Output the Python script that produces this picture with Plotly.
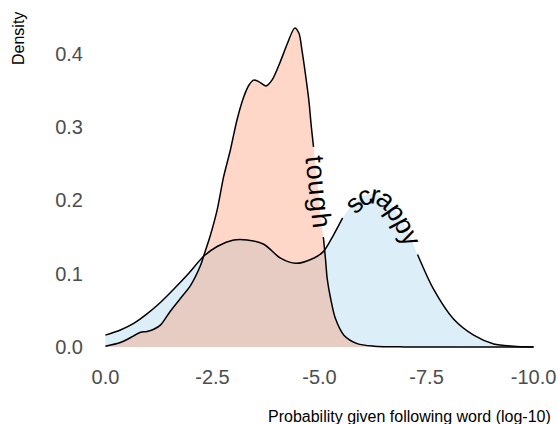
import math
import numpy as np
import plotly.graph_objects as go

# ---- data ----
tough_x = [0.0, -0.35, -0.66, -0.82, -0.97, -1.13, -1.29, -1.52, -1.75, -1.99, -2.22, -2.30,
           -2.45, -2.61, -2.76, -2.92, -3.07, -3.23, -3.35, -3.46, -3.58, -3.75, -3.89, -4.09,
           -4.25, -4.42, -4.52, -4.59, -4.67, -4.75, -4.81, -4.86, -4.93, -5.00, -5.05, -5.09,
           -5.14, -5.18, -5.26, -5.37, -5.57, -5.88, -6.27, -7.0, -8.0, -9.0, -10.0]
tough_y = [0.001, 0.006, 0.015, 0.020, 0.021, 0.024, 0.030, 0.049, 0.066, 0.084, 0.111, 0.125,
           0.152, 0.187, 0.232, 0.269, 0.309, 0.341, 0.357, 0.364, 0.362, 0.356, 0.364, 0.390,
           0.414, 0.435, 0.428, 0.405, 0.373, 0.337, 0.300, 0.273, 0.235, 0.194, 0.166, 0.150,
           0.120, 0.093, 0.066, 0.039, 0.016, 0.0045, 0.001, 0.0, 0.0, 0.0, 0.0]

scrappy_x = [0.0, -0.35, -0.66, -0.97, -1.29, -1.60, -1.91, -2.30, -2.61, -3.00, -3.31, -3.70,
             -4.09, -4.44, -4.86, -5.09, -5.33, -5.54, -5.77, -6.00, -6.24, -6.47, -6.71, -6.94,
             -7.13, -7.29, -7.66, -8.13, -8.60, -9.07, -9.53, -10.0]
scrappy_y = [0.016, 0.023, 0.032, 0.045, 0.061, 0.079, 0.098, 0.124, 0.137, 0.146, 0.146, 0.140,
             0.121, 0.114, 0.121, 0.130, 0.153, 0.176, 0.194, 0.205, 0.209, 0.205, 0.192, 0.171,
             0.149, 0.126, 0.079, 0.038, 0.016, 0.004, 0.001, 0.0]

labels = ["tough", "scrappy"]
label_span = {"tough": (-4.86, -5.09), "scrappy": (-5.54, -7.29)}

x_ticks = [0.0, -2.5, -5.0, -7.5, -10.0]
x_ticktext = ["0.0", "-2.5", "-5.0", "-7.5", "-10.0"]
y_ticks = [0.0, 0.1, 0.2, 0.3, 0.4]
y_ticktext = ["0.0", "0.1", "0.2", "0.3", "0.4"]

# ---- layout geometry ----
W, H = 558, 424
ML, MR, MT, MB = 84, 3, 12, 61
XR = [0.5, -10.5]
YR = [-0.022, 0.457]
PW, PH = W - ML - MR, H - MT - MB
FONT = "Liberation Sans, Arial, sans-serif"

def to_px(x, y):
    return (ML + (XR[0] - x) / (XR[0] - XR[1]) * PW,
            MT + (YR[1] - y) / (YR[1] - YR[0]) * PH)

def to_data(px, py):
    return (XR[0] - (px - ML) / PW * (XR[0] - XR[1]),
            YR[1] - (py - MT) / PH * (YR[1] - YR[0]))

FILL = {"tough": "rgba(252,141,98,0.35)", "scrappy": "rgba(155,206,232,0.35)"}
LABEL_FS = 27
ADV = {"t": .278, "o": .556, "u": .556, "g": .556, "h": .556, "s": .5, "c": .5,
       "r": .333, "a": .556, "p": .556, "y": .5}
SPACING = {"tough": 1.08, "scrappy": 1.02}
SERIES = {"tough": (tough_x, tough_y), "scrappy": (scrappy_x, scrappy_y)}
SMOOTH = 0.8

fig = go.Figure()
annotations = []

for name in ["scrappy", "tough"]:
    xs, ys = SERIES[name]
    fig.add_trace(go.Scatter(x=xs, y=ys, mode="lines",
                             line=dict(width=0, shape="spline", smoothing=SMOOTH),
                             fill="tozeroy", fillcolor=FILL[name], hoverinfo="skip", showlegend=False))

for name in ["scrappy", "tough"]:
    xs, ys = SERIES[name]
    a, b = label_span[name]
    seg1 = [(x, y) for x, y in zip(xs, ys) if x >= a]
    seg2 = [(x, y) for x, y in zip(xs, ys) if x <= b]
    for seg in (seg1, seg2):
        fig.add_trace(go.Scatter(x=[p[0] for p in seg], y=[p[1] for p in seg], mode="lines",
                                 line=dict(color="black", width=1.5, shape="spline", smoothing=SMOOTH),
                                 hoverinfo="skip", showlegend=False))
    # text along the path between the two line segments
    pts = np.array([to_px(x, y) for x, y in zip(xs, ys) if b <= x <= a])
    d = np.sqrt(np.sum(np.diff(pts, axis=0) ** 2, axis=1))
    cum = np.concatenate([[0], np.cumsum(d)])
    total = cum[-1]
    widths = [ADV[c] * LABEL_FS * SPACING[name] for c in name]
    L = sum(widths)
    s0 = (total - L) / 2
    acc = 0.0
    for ch, w in zip(name, widths):
        s = s0 + acc + w / 2
        acc += w
        i = int(np.clip(np.searchsorted(cum, s) - 1, 0, len(d) - 1))
        t = (s - cum[i]) / d[i] if d[i] > 0 else 0
        px = pts[i][0] + t * (pts[i + 1][0] - pts[i][0])
        py = pts[i][1] + t * (pts[i + 1][1] - pts[i][1])
        a0 = math.atan2(pts[i + 1][1] - pts[i][1], pts[i + 1][0] - pts[i][0])
        if t < 0.5 and i > 0:
            ap = math.atan2(pts[i][1] - pts[i - 1][1], pts[i][0] - pts[i - 1][0])
            ang = ap + (a0 - ap) * (t + 0.5)
        elif t >= 0.5 and i + 2 < len(pts):
            an = math.atan2(pts[i + 2][1] - pts[i + 1][1], pts[i + 2][0] - pts[i + 1][0])
            ang = a0 + (an - a0) * (t - 0.5)
        else:
            ang = a0
        dx, dy = to_data(px, py)
        annotations.append(dict(x=dx, y=dy, xref="x", yref="y", text=ch, showarrow=False,
                                textangle=math.degrees(ang), xanchor="center", yanchor="middle",
                                font=dict(family=FONT, size=LABEL_FS, color="black")))

annotations.append(dict(text="Probability given following word (log-10)", xref="paper", yref="paper",
                        x=1, y=0, xanchor="right", yanchor="middle", xshift=-2, yshift=-53,
                        showarrow=False, font=dict(family=FONT, size=16, color="black")))
annotations.append(dict(text="Density", xref="paper", yref="paper", x=0, y=(H - MB - 39) / PH,
                        xanchor="center", yanchor="middle", xshift=-(ML - 19), textangle=-90,
                        showarrow=False, font=dict(family=FONT, size=16, color="black")))

fig.update_layout(
    width=W, height=H, margin=dict(l=ML, r=MR, t=MT, b=MB, pad=0),
    plot_bgcolor="white", paper_bgcolor="white", showlegend=False,
    xaxis=dict(range=XR, tickvals=x_ticks, ticktext=x_ticktext, showgrid=False, zeroline=False,
               showline=False, ticks="", tickfont=dict(family=FONT, size=20, color="#4D4D4D")),
    yaxis=dict(range=YR, tickvals=y_ticks, ticktext=y_ticktext, showgrid=False, zeroline=False,
               showline=False, ticks="", tickfont=dict(family=FONT, size=20, color="#4D4D4D")),
    annotations=annotations,
)

fig.write_html("out.html", config={"displayModeBar": False},
               post_script="document.body.style.margin='0px';")
